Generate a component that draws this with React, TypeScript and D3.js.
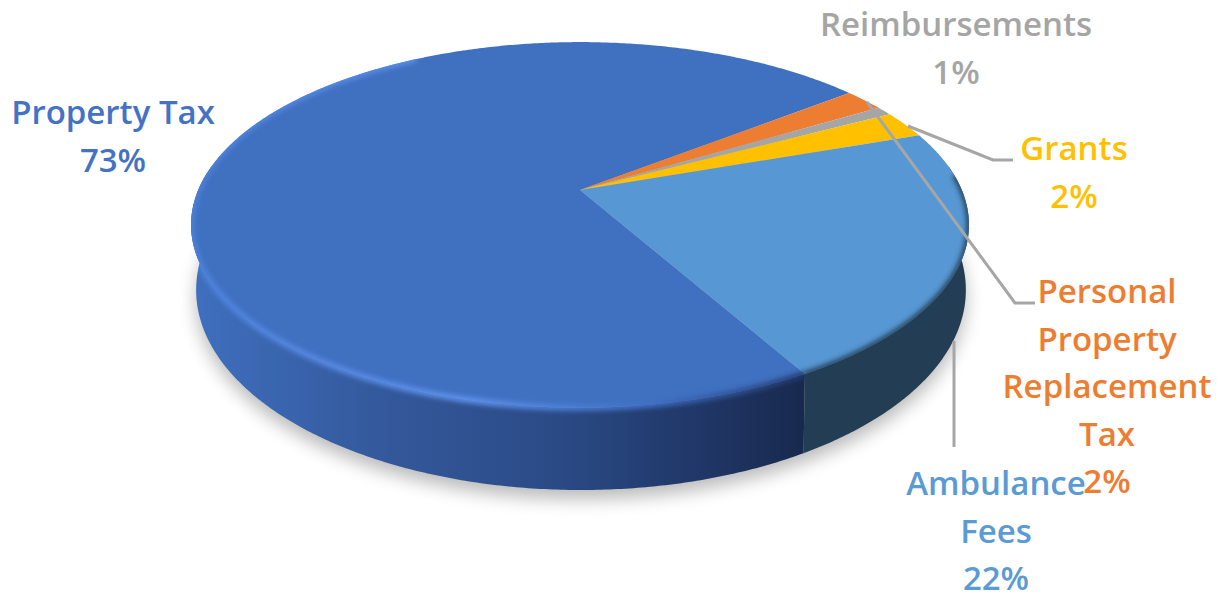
import React from "react";
import * as d3 from "d3";

const categories = ["Property Tax", "Personal Property Replacement Tax", "Reimbursements", "Grants", "Ambulance Fees"];
const shares = [72.6, 2.0, 0.8, 2.4, 22.2];
const colours = ["#4070c0", "#ed7d31", "#a5a5a5", "#ffc000", "#5797d3"];
const labelLines = [["Property Tax"], ["Personal", "Property", "Replacement", "Tax"], ["Reimbursements"], ["Grants"], ["Ambulance", "Fees"]];
const labelAnchors: [number, number][] = [[113, 124], [1107, 303], [956, 36], [1074, 160], [996, 495]];
const labelColours = ["#4472c4", "#ed7d31", "#a5a5a5", "#ffc000", "#5b9bd5"];
const leaderLines: [number, number][][] = [
  [[867, 102], [1015, 303], [1035, 303]],
  [[908, 126], [993, 160], [1013, 160]],
  [[954, 341], [954, 447]],
];

const W = 1230, H = 594, LINE = 47.5;
const deg = Math.PI / 180;
const START = 150.5 * deg;
const PERSP = -0.188;

// Perspective projection of the pie disc: apex is not the ellipse centre.
const project = (cx: number, k: number, a: number, b: number) => (angle: number): [number, number] => {
  const u = Math.sin(angle), v = -Math.cos(angle), w = 1 + PERSP * v;
  return [cx + (k * u) / w, (a * v + b) / w];
};
const topRim = project(580, 382, 140.5, 190.5);
const baseRim = project(581, 378, 145.5, 252.4);
const apex: [number, number] = [580, 190];

const line = d3.line();
const arcPoints = (f: (a: number) => [number, number], a0: number, a1: number) => {
  const n = Math.max(2, Math.ceil(Math.abs(a1 - a0) / (0.5 * deg)));
  return d3.range(n + 1).map((i) => f(a0 + ((a1 - a0) * i) / n));
};
const pie = d3.pie<number>().sort(null).startAngle(START).endAngle(START + 2 * Math.PI);
const slices = pie(shares);

const wall = (a0: number, a1: number) =>
  line([...arcPoints(topRim, a0, a1), ...arcPoints(baseRim, a1, a0)]) + "Z";
const base = line(arcPoints(baseRim, 0, 2 * Math.PI)) + "Z";
const disc = line(arcPoints(topRim, 0, 2 * Math.PI)) + "Z";
const blueWall = wall(START, 278 * deg);
const darkWall = wall(82 * deg, START);

const font = "'Open Sans', 'Noto Sans', sans-serif";

export default function App() {
  return (
    <svg width={W} height={H} viewBox={`0 0 ${W} ${H}`} style={{ position: "absolute", left: 0, top: 0, background: "#fff" }}>
      <defs>
        <filter id="soft" x="-10%" y="-10%" width="120%" height="120%"><feGaussianBlur stdDeviation="9" /></filter>
        <filter id="edge" x="-5%" y="-5%" width="110%" height="110%"><feGaussianBlur stdDeviation="2.4" /></filter>
        <clipPath id="body"><path d={disc} /><path d={blueWall} /><path d={darkWall} /></clipPath>
        <linearGradient id="wallBlue" gradientUnits="userSpaceOnUse" x1="195" x2="805" y1="0" y2="0">
          <stop offset="0" stopColor="#3f6fbe" />
          <stop offset="0.3" stopColor="#34599c" />
          <stop offset="0.6" stopColor="#2a4a85" />
          <stop offset="0.85" stopColor="#1f3564" />
          <stop offset="1" stopColor="#18294e" />
        </linearGradient>
        <linearGradient id="rimLight" gradientUnits="userSpaceOnUse" x1="195" x2="805" y1="0" y2="0">
          <stop offset="0" stopColor="#4d82dc" />
          <stop offset="0.45" stopColor="#5f93ee" />
          <stop offset="0.75" stopColor="#3f6fc4" />
          <stop offset="1" stopColor="#22396a" />
        </linearGradient>
      </defs>

      <path d={base} fill="#000" opacity={0.27} filter="url(#soft)" transform="translate(0 9)" />

      <path d={blueWall} fill="url(#wallBlue)" />
      <path d={darkWall} fill="#233e54" />

      {slices.map((s, i) => (
        <path
          key={categories[i]}
          d={line([apex, ...arcPoints(topRim, s.startAngle, s.endAngle)]) + "Z"}
          fill={colours[i]}
        />
      ))}

      <g clipPath="url(#body)">
        <path d={line(arcPoints(topRim, START, 330 * deg))!} fill="none" stroke="url(#rimLight)" strokeWidth={6} filter="url(#edge)" />
        <path d={line(arcPoints(topRim, 85 * deg, START))!} fill="none" stroke="#233e54" strokeWidth={5} filter="url(#edge)" />
      </g>

      {leaderLines.map((pts, i) => (
        <path key={i} d={line(pts)!} fill="none" stroke="#a6a6a6" strokeWidth={3} />
      ))}

      {slices.map((s, i) => {
        const [x, y] = labelAnchors[i];
        const rows = [...labelLines[i], d3.format(".0f")(s.data) + "%"];
        return (
          <text key={categories[i]} textAnchor="middle" fontFamily={font} fontWeight={600} fontSize={33} fill={labelColours[i]}>
            {rows.map((r, j) => (
              <tspan key={j} x={x} y={y + j * LINE}>{r}</tspan>
            ))}
          </text>
        );
      })}
    </svg>
  );
}
